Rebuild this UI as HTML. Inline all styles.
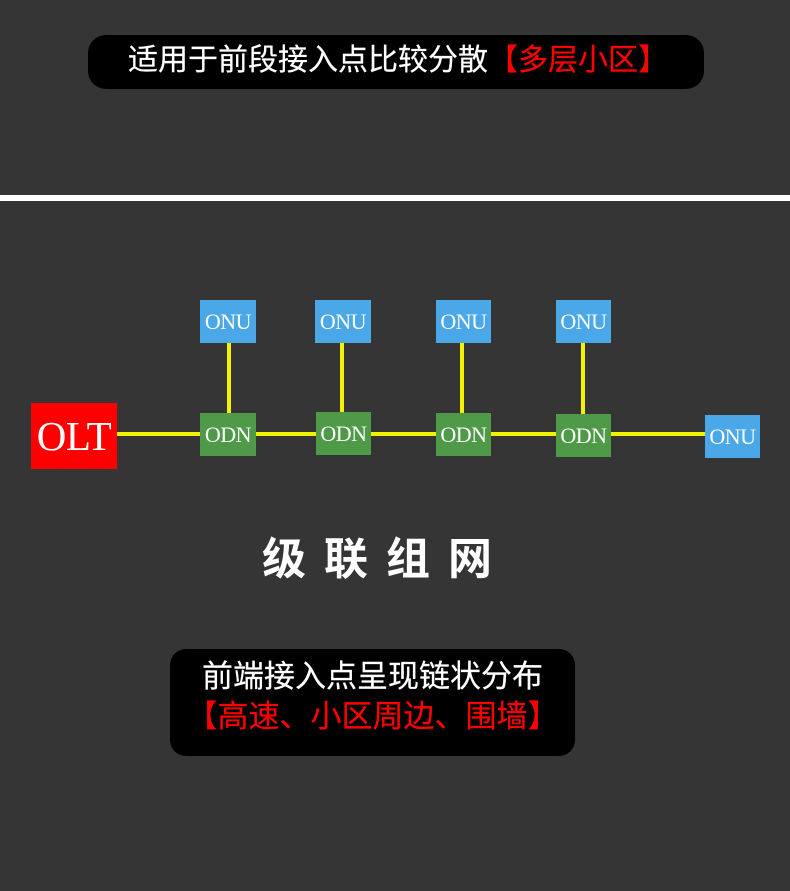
<!DOCTYPE html>
<html><head><meta charset="utf-8"><style>
*{margin:0;padding:0;box-sizing:border-box}
body{width:790px;height:891px;background:#353535;position:relative;overflow:hidden;font-family:"Liberation Sans","Noto Sans CJK SC",sans-serif}
.abs{position:absolute}
.pill{background:#000;border-radius:18px;color:#fff;text-align:center}
.box{position:absolute;color:#fff;font-family:"Liberation Serif",serif;display:flex;align-items:center;justify-content:center;letter-spacing:-0.5px}
.onu{background:#4aa8e8;font-size:22px}
.odn{background:#4f9a48;font-size:22px}
.y{position:absolute;background:#f2f200}
.r{color:#f00}
</style></head><body>
<div class="abs pill" style="left:88px;top:35px;width:616px;height:54px;font-size:30px;line-height:52px;padding-left:4px;-webkit-text-stroke:0.2px #fff">适用于前段接入点比较分散<span class="r" style="-webkit-text-stroke:0.2px #f00">【多层小区】</span></div>
<div class="abs" style="left:0;top:195px;width:790px;height:6px;background:#fff"></div>

<div class="y" style="left:116px;top:432px;width:590px;height:4px"></div>
<div class="y" style="left:227px;top:342px;width:4px;height:72px"></div>
<div class="y" style="left:340px;top:342px;width:4px;height:72px"></div>
<div class="y" style="left:460px;top:342px;width:4px;height:72px"></div>
<div class="y" style="left:581px;top:342px;width:4px;height:72px"></div>

<div class="box" style="left:31px;top:403px;width:86px;height:66px;background:#f00;font-size:41px">OLT</div>
<div class="box onu" style="left:200px;top:300px;width:56px;height:43px">ONU</div>
<div class="box onu" style="left:315px;top:300px;width:56px;height:43px">ONU</div>
<div class="box onu" style="left:436px;top:300px;width:55px;height:43px">ONU</div>
<div class="box onu" style="left:556px;top:300px;width:55px;height:43px">ONU</div>
<div class="box odn" style="left:200px;top:413px;width:56px;height:43px">ODN</div>
<div class="box odn" style="left:316px;top:412px;width:55px;height:43px">ODN</div>
<div class="box odn" style="left:436px;top:413px;width:55px;height:43px">ODN</div>
<div class="box odn" style="left:556px;top:414px;width:55px;height:43px">ODN</div>
<div class="box onu" style="left:705px;top:415px;width:55px;height:43px">ONU</div>

<div class="abs" style="left:262px;top:530px;color:#fff;font-size:44px;font-weight:bold;letter-spacing:18px;line-height:60px;white-space:nowrap">级联组网</div>

<div class="abs pill" style="left:170px;top:649px;width:405px;height:107px;border-radius:16px;">
<div style="font-size:31px;line-height:32px;margin-top:12px;-webkit-text-stroke:0.2px #fff">前端接入点呈现链状分布</div>
<div class="r" style="font-size:31px;line-height:36px;margin-top:6px;-webkit-text-stroke:0.2px #f00">【高速、小区周边、围墙】</div>
</div>
</body></html>
